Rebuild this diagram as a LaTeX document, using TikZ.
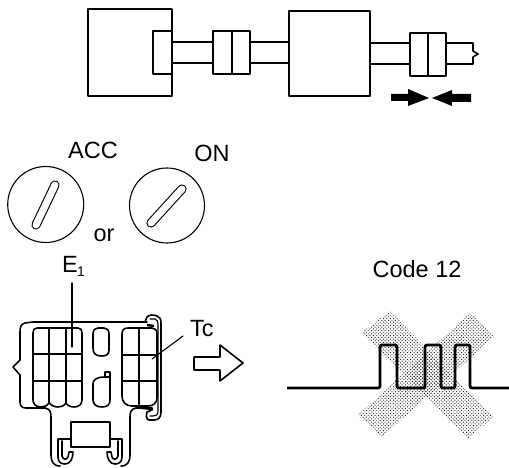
\documentclass[tikz,border=0pt]{standalone}
\usepackage{fontspec}
\setmainfont{Liberation Sans}
\usetikzlibrary{patterns.meta}
\tikzset{
  ln/.style={line width=1.6pt,line join=round,line cap=round},
  thin ln/.style={line width=1.1pt,line join=round,line cap=round},
  lbl/.style={inner sep=0pt,font=\fontsize{23.5}{25}\selectfont},
  slot/.style={line width=1.1pt,double=white,double distance=7pt,line cap=round},
  pulse/.style={line width=2.8pt,rounded corners=2pt,line join=round},
  band/.style={draw=none,pattern={Dots[distance=2.4pt,radius=0.68pt,angle=45]},pattern color=black!85}
}
\begin{document}
\begin{tikzpicture}[x=1pt,y=-1pt]
\useasboundingbox (0,0) rectangle (509,468);
% top: boxes and connectors
\draw[ln] (88,9) rectangle (172,96);
\draw[ln] (153,31) rectangle (172,74);
\draw[ln] (172,42) -- (213,42) (172,63) -- (213,63);
\draw[ln] (213,31) rectangle (250,74) (232,31) -- (232,74);
\draw[ln] (250,42) -- (289,42) (250,63) -- (289,63);
\draw[ln] (289,11) rectangle (370,96);
\draw[ln] (370,43) -- (410,43) (370,64) -- (410,64);
\draw[ln] (410,33) rectangle (446,76) (428,33) -- (428,76);
\draw[ln] (446,43) -- (473,43) -- (473,51) -- (478,54) -- (473,57) -- (473,64) -- (446,64);
\fill (391,94) -- (408,94) -- (408,89) -- (429,98) -- (408,106) -- (408,101) -- (391,101) -- cycle;
\fill (471,94) -- (452,94) -- (452,90) -- (432,98) -- (452,106) -- (452,102) -- (471,102) -- cycle;
% key positions
\draw[thin ln] (45.7,204.5) circle[radius=38];
\draw[thin ln] (167,205.5) circle[radius=37.5];
\draw[slot] (55,185) -- (36,225);
\draw[slot] (182,189) -- (151,223);
\node[lbl] (acc) at (93,150) {ACC};
\node[lbl] (on) at (212,153) {ON};
\node[lbl] (or) at (104,235) {or};
% connector outline
\draw[ln] (147,322) -- (33,322) -- (25,323) .. controls (21,324) and (20,327) .. (20,332) -- (20,360) -- (13,367) -- (20,375) -- (20,402) .. controls (20,406) and (22,408) .. (26,408) -- (45,408) .. controls (50,409) and (51,412) .. (51,417) -- (51,455) .. controls (51,461) and (53,466) .. (60,466);
\draw[ln] (130,417) .. controls (130,412) and (131,409) .. (136,408) -- (152,408);
\draw[ln] (130,417) -- (130,455) .. controls (130,461) and (128,466) .. (121,466);
% left hook
\draw[ln] (71,439) -- (58,439) -- (58,457) .. controls (58,462) and (61,464) .. (65,464) .. controls (70,464) and (73,459) .. (73,452) -- (69,452) -- (68,457) .. controls (67,460) and (63,460) .. (62,456) -- (62,441);
% right hook
\draw[ln] (110,439) -- (122,439) -- (122,457) .. controls (122,462) and (119,464) .. (115,464) .. controls (110,464) and (107,459) .. (107,452) -- (111,452) -- (112,457) .. controls (113,460) and (117,460) .. (118,456) -- (118,441);
\draw[ln] (71,422) rectangle (110,447);
% right clip
\draw[ln] (145,322) -- (147,317) .. controls (150,314) and (154,315) .. (157,316) .. controls (160,317) and (161,319) .. (161,323) -- (161,412) .. controls (161,418) and (158,420) .. (154,420) -- (149,420) .. controls (146,419) and (146,416) .. (147,412) -- (152,410);
\draw[thin ln] (150,319) -- (155,319) .. controls (157,320) and (158,321) .. (158,324) -- (158,411) .. controls (158,415) and (156,416) .. (153,416) -- (150,416);
\draw[line width=2.4pt] (147,325) -- (154,326) (142,408) -- (153,409);
% cavities left
\draw[ln] (37,328) -- (78,328) .. controls (81,328) and (82,330) .. (82,333) -- (82,400) .. controls (82,405) and (78,407) .. (74,407) .. controls (70,407) and (67,405) .. (66,403) .. controls (64,406) and (61,407) .. (58,407) .. controls (54,407) and (51,405) .. (49,403) .. controls (47,406) and (44,407) .. (41,407) .. controls (36,407) and (33,404) .. (33,400) -- (33,333) .. controls (33,330) and (34,328) .. (37,328);
\draw[ln] (49,328) -- (49,403) (66,328) -- (66,403);
\draw[ln] (33,354) -- (82,354) (33,381) -- (82,381);
% middle slots
\draw[ln] (93,334) .. controls (93,330) and (95,328) .. (98,328) -- (104,328) .. controls (107,328) and (109,330) .. (109,334) -- (109,350) .. controls (109,354) and (107,356) .. (102,356) .. controls (96,356) and (93,354) .. (93,348) -- cycle;
\draw[ln] (93,384) .. controls (93,380) and (96,377) .. (105,377) -- (105,372) -- (110,372) -- (110,400) .. controls (110,405) and (107,407) .. (102,407) .. controls (96,407) and (93,404) .. (93,400) -- cycle (105,377) -- (110,377);
% cavities right
\draw[ln] (128,328) -- (152,328) .. controls (155,328) and (157,330) .. (157,334) -- (157,398) .. controls (157,403) and (153,406) .. (148,406) -- (132,406) .. controls (126,406) and (122,402) .. (122,396) -- (122,334) .. controls (122,330) and (124,328) .. (128,328);
\draw[ln] (139,328) -- (139,406);
\draw[ln] (122,355) -- (157,355) (122,381) -- (157,381);
% labels and leaders
\node[lbl,anchor=base west] (e1) at (62,272) {E};
\node[inner sep=0pt,font=\fontsize{14}{16}\selectfont,anchor=base west] (e1sub) at (77,276) {1};
\coordinate (e1end) at (72,347);
\draw[thin ln] (72,283) -- (e1end);
\node[lbl,anchor=base west] (tc) at (190,336) {Tc};
\coordinate (tcfrom) at (183,336);
\coordinate (tcend) at (152,359);
\draw[thin ln] (tcfrom) -- (tcend);
% outlined arrow
\draw[ln] (194,357) -- (220,357) -- (220,345) -- (243,363) -- (220,381) -- (220,370) -- (194,370) -- cycle;
% code
\node[lbl,anchor=base] (code) at (417,277) {Code 12};
\fill[band] (390,311) -- (361,333) -- (468,439) -- (493,417) -- cycle;
\fill[band] (470,313) -- (495,336) -- (382,437) -- (358,415) -- cycle;
\draw[pulse] (287,388) -- (380,388) -- (380,345) -- (397,345) -- (397,388) -- (425,388) -- (425,345) -- (441,345) -- (441,388) -- (455,388) -- (455,345) -- (470,345) -- (470,388) -- (509,388);
\end{tikzpicture}
\end{document}
